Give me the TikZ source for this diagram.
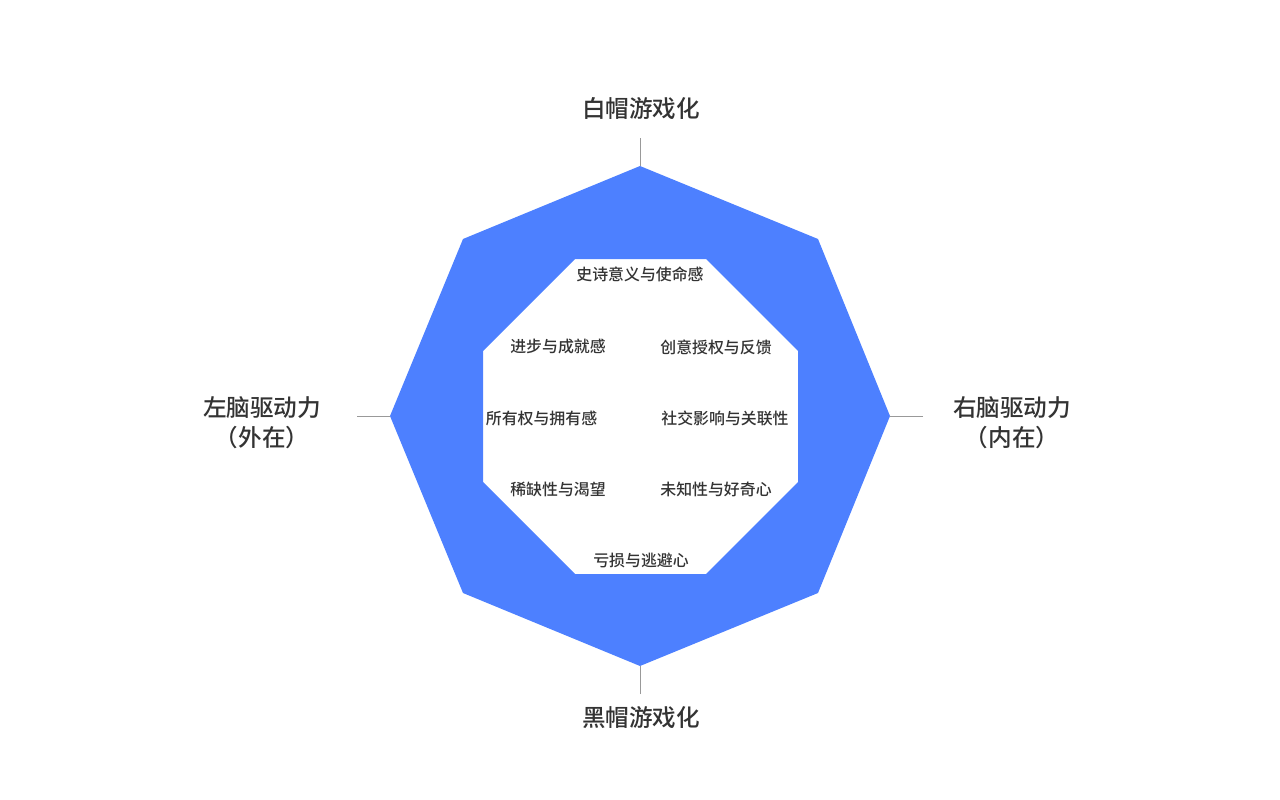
\documentclass[tikz,border=0pt]{standalone}
\usepackage{fontspec}
\setmainfont{Noto Sans CJK SC}
\newfontfamily\medfont{Noto Sans CJK SC Medium}
\definecolor{octblue}{HTML}{4D80FF}
\definecolor{txt}{HTML}{333333}
\definecolor{tick}{HTML}{999999}
\begin{document}
\begin{tikzpicture}[x=1pt,y=-1pt,
  title/.style={font=\fontsize{23.6}{28}\selectfont\medfont, text=txt, inner sep=0pt, align=center},
  item/.style={font=\fontsize{15.9}{19}\selectfont\medfont, text=txt, inner sep=0pt},
  tickline/.style={draw=tick, line width=0.8pt}]
\useasboundingbox (0,0) rectangle (1280,800);
% outer octagon vertices
\coordinate (oT) at (640,166);
\coordinate (oTR) at (818,239);
\coordinate (oR) at (890,416);
\coordinate (oBR) at (818,593);
\coordinate (oB) at (640,666);
\coordinate (oBL) at (463,593);
\coordinate (oL) at (390,416);
\coordinate (oTL) at (463,239);
% inner octagon vertices
\coordinate (i1) at (575,259);
\coordinate (i2) at (706,259);
\coordinate (i3) at (798,351);
\coordinate (i4) at (798,482);
\coordinate (i5) at (706,574);
\coordinate (i6) at (575,574);
\coordinate (i7) at (483,482);
\coordinate (i8) at (483,351);
\fill[octblue, even odd rule] (oT) -- (oTR) -- (oR) -- (oBR) -- (oB) -- (oBL) -- (oL) -- (oTL) -- cycle
  (i1) -- (i2) -- (i3) -- (i4) -- (i5) -- (i6) -- (i7) -- (i8) -- cycle;
% tick ends
\coordinate (tT) at (640,138);
\coordinate (tB) at (640,694);
\coordinate (tL) at (357,416);
\coordinate (tR) at (923,416);
\draw[tickline] (tT) -- (oT);
\draw[tickline] (tB) -- (oB);
\draw[tickline] (tL) -- (oL);
\draw[tickline] (tR) -- (oR);
% titles
\node[title] (white) at (641,109) {白帽游戏化};
\node[title] (black) at (641,718) {黑帽游戏化};
\node[title] (left) at (262,423) {左脑驱动力\\[2pt]（外在）};
\node[title] (right) at (1012,423) {右脑驱动力\\[2pt]（内在）};
% items
\node[item] (a) at (640,274) {史诗意义与使命感};
\node[item] (b) at (558,347) {进步与成就感};
\node[item] (c) at (716,347) {创意授权与反馈};
\node[item] (d) at (541.5,418) {所有权与拥有感};
\node[item] (e) at (725,418) {社交影响与关联性};
\node[item] (f) at (558,489) {稀缺性与渴望};
\node[item] (g) at (716,489) {未知性与好奇心};
\node[item] (h) at (641,560) {亏损与逃避心};
\end{tikzpicture}
\end{document}
